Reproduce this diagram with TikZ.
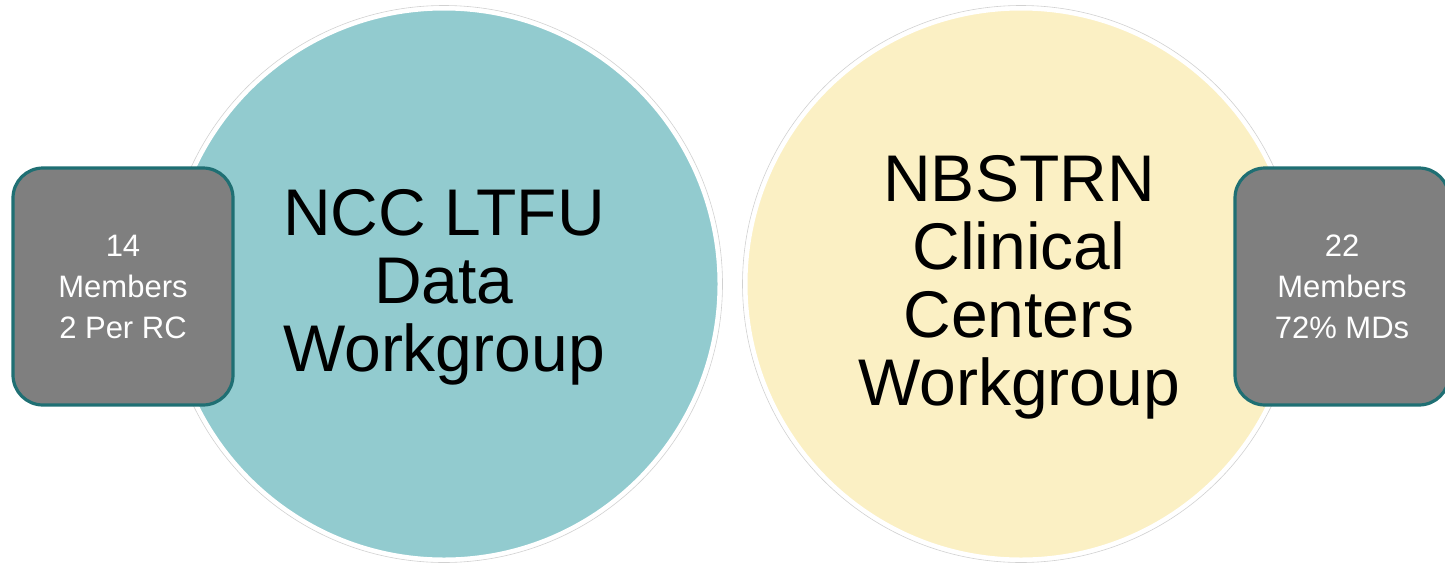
\documentclass[tikz,border=0pt]{standalone}
\usepackage{fontspec}
\setmainfont{Liberation Sans}
\definecolor{tealfill}{HTML}{92CBCF}
\definecolor{yellowfill}{HTML}{FBF0C4}
\definecolor{boxgray}{HTML}{7F7F7F}
\definecolor{boxedge}{HTML}{1F6F73}
\tikzset{
  bubble/.style={circle, inner sep=0pt, minimum size=550pt, draw=white, line width=3pt},
  halo/.style={circle, inner sep=0pt, minimum size=557pt, draw=black!18, line width=0.6pt},
  bigtext/.style={align=center, text=black, font=\fontsize{66}{68}\selectfont, inner sep=0pt},
  infobox/.style={draw=boxedge, line width=3.2pt, fill=boxgray, rounded corners=30pt,
    text=white, align=center, font=\fontsize{31}{41}\selectfont, inner sep=0pt}
}
\begin{document}
\begin{tikzpicture}[x=1pt, y=-1pt]
\useasboundingbox (0,0) rectangle (1445,563);
% halos
\node[halo] (lhalo) at (444,284) {};
\node[halo] (rhalo) at (1021,284) {};
% circles
\node[bubble, fill=tealfill] (lcircle) at (444,284) {};
\node[bubble, fill=yellowfill] (rcircle) at (1021,284) {};
% circle texts
\node[bigtext] (ltext) at (444,287) {NCC LTFU\\Data\\Workgroup};
\node[bigtext] (rtext) at (1019,287) {NBSTRN\\Clinical\\Centers\\Workgroup};
% boxes
\node[infobox, minimum width=220pt, minimum height=237pt] (lbox) at (123,286.5) {14\\Members\\2 Per RC};
\node[infobox, minimum width=214pt, minimum height=237pt] (rbox) at (1342,286.5) {22\\Members\\72\% MDs};
\end{tikzpicture}
\end{document}
